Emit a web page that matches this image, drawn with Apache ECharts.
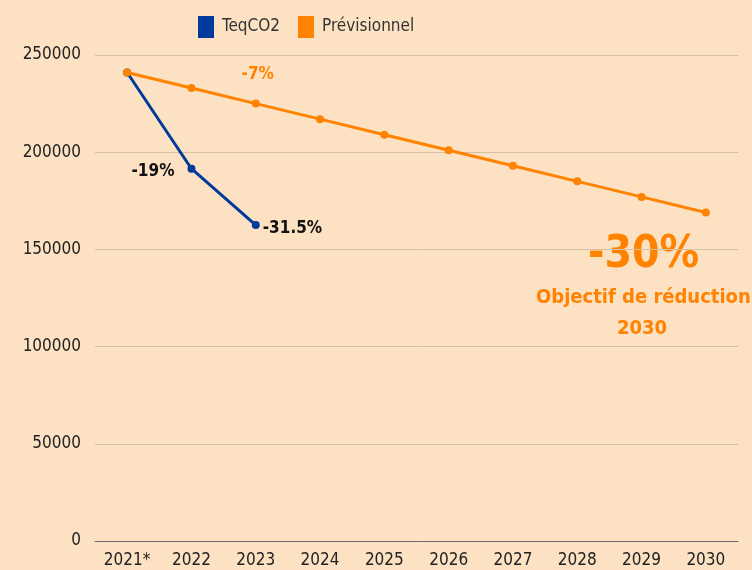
<!DOCTYPE html>
<html>
<head>
<meta charset="utf-8">
<script src="https://cdn.jsdelivr.net/npm/echarts@6/dist/echarts.min.js"></script>
<style>
  html, body { margin: 0; padding: 0; background: #FDE1C3; }
  #chart { width: 752px; height: 570px; }
</style>
</head>
<body>
<div id="chart"></div>
<script>
var years = ['2021*', '2022', '2023', '2024', '2025', '2026', '2027', '2028', '2029', '2030'];
var teqco2 = [241000, 191500, 162500];
var previsionnel = [241000, 233000, 225000, 217000, 209000, 201000, 193000, 185000, 177000, 169000];
var teqLabels = ['', '-19%', '-31.5%'];
var prevLabels = ['', '', '-7%', '', '', '', '', '', '', ''];

var condensed = '"DejaVu Sans Condensed", sans-serif';
var orange = '#FF8200';
var blue = '#003A9B';

var teqData = teqco2.map(function (v, i) {
  var item = { value: v };
  if (i === 1) {
    item.label = { show: true, formatter: teqLabels[i], position: 'left', distance: 14, offset: [1, 3] };
  } else if (i === 2) {
    item.label = { show: true, formatter: teqLabels[i], position: 'right', distance: 3, offset: [0, 3] };
  }
  return item;
});

var prevData = previsionnel.map(function (v, i) {
  var item = { value: v };
  if (prevLabels[i]) {
    item.label = { show: true, formatter: prevLabels[i], position: 'top', distance: 17, offset: [2, 0] };
  }
  return item;
});

var option = {
  animation: false,
  backgroundColor: '#FDE1C3',
  legend: {
    top: 11,
    left: 193,
    itemWidth: 16,
    itemHeight: 22,
    itemGap: 18,
    icon: 'rect',
    textStyle: { fontFamily: condensed, fontSize: 17, color: '#333', padding: [0, 0, 0, 3] },
    data: ['TeqCO2', 'Prévisionnel']
  },
  grid: { left: 95, right: 14, top: 55, bottom: 29, containLabel: false },
  xAxis: {
    type: 'category',
    data: years,
    boundaryGap: true,
    axisLine: { lineStyle: { color: '#6b6b6b', width: 1 } },
    axisTick: { show: false },
    axisLabel: { fontFamily: condensed, fontSize: 17, color: '#222', margin: 11, interval: 0 }
  },
  yAxis: {
    type: 'value',
    min: 0,
    max: 250000,
    interval: 50000,
    axisLine: { show: false },
    axisTick: { show: false },
    axisLabel: { fontFamily: condensed, fontSize: 17, color: '#222', margin: 14, formatter: function (v) { return String(v); } },
    splitLine: { lineStyle: { color: '#D4BEA6', width: 1 } }
  },
  series: [
    {
      name: 'Prévisionnel',
      type: 'line',
      data: prevData,
      color: orange,
      symbol: 'circle',
      symbolSize: 8,
      lineStyle: { width: 3, color: orange },
      itemStyle: { color: orange },
      label: { show: false, fontFamily: condensed, fontWeight: 'bold', fontSize: 17, color: orange },
      z: 2
    },
    {
      name: 'TeqCO2',
      type: 'line',
      data: teqData,
      color: blue,
      symbol: 'circle',
      symbolSize: 8,
      lineStyle: { width: 3, color: blue },
      itemStyle: { color: blue },
      label: { show: false, fontFamily: condensed, fontWeight: 'bold', fontSize: 17, color: '#111' },
      z: 1
    }
  ],
  graphic: [
    {
      type: 'text',
      left: 588,
      top: 234,
      style: {
        text: '-30%',
        fill: orange,
        font: 'bold 44px ' + condensed
      }
    },
    {
      type: 'text',
      left: 536,
      top: 288,
      style: {
        text: 'Objectif de réduction',
        fill: orange,
        font: 'bold 20px ' + condensed
      }
    },
    {
      type: 'text',
      left: 617,
      top: 319,
      style: {
        text: '2030',
        fill: orange,
        font: 'bold 20px ' + condensed
      }
    }
  ]
};

echarts.init(document.getElementById('chart')).setOption(option);
</script>
</body>
</html>
